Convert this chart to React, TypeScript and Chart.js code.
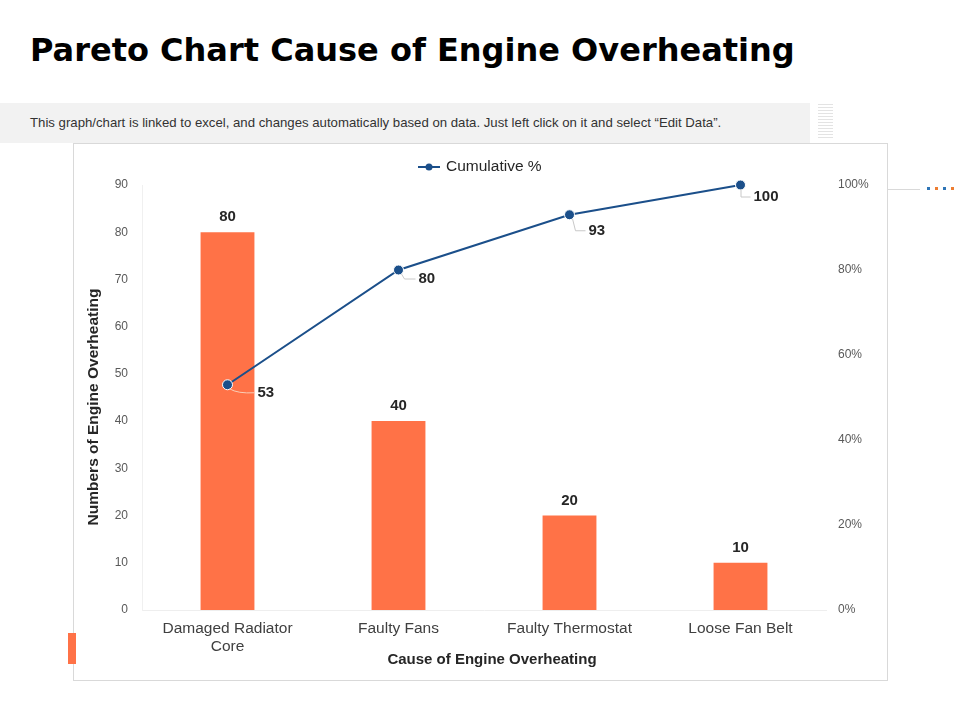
import React, { useEffect, useRef } from "react";
import { Chart, registerables } from "chart.js";

Chart.register(...registerables);

const categories: (string | string[])[] = [["Damaged Radiator", "Core"], "Faulty Fans", "Faulty Thermostat", "Loose Fan Belt"];
const counts = [80, 40, 20, 10];
const cumulative = [53, 80, 93, 100];
const leftTicksMax = 90;
const rightTicksMax = 100;

const ORANGE = "#FF7247";
const BLUE = "#1B4F8A";
const FONT = "'Liberation Sans', Arial, sans-serif";

// label placement offsets for the cumulative labels (layout only)
const LABEL_OFFSETS = [
  [30, 8],
  [20, 9],
  [19, 16],
  [13, 12],
];

const customPlugin = {
  id: "custom",
  afterDatasetsDraw(chart: any) {
    const ctx = chart.ctx;
    ctx.save();
    // bar value labels
    const barMeta = chart.getDatasetMeta(0);
    ctx.font = `bold 15px ${FONT}`;
    ctx.fillStyle = "#262626";
    ctx.textAlign = "center";
    ctx.textBaseline = "middle";
    barMeta.data.forEach((el: any, i: number) => {
      ctx.fillText(String(counts[i]), el.x, el.y - 15);
    });
    // line labels with leaders
    const lineMeta = chart.getDatasetMeta(1);
    lineMeta.data.forEach((el: any, i: number) => {
      const [dx, dy] = LABEL_OFFSETS[i];
      const lx = el.x + dx;
      const ly = el.y + dy;
      ctx.strokeStyle = i === 0 ? "#F9CDB6" : "#C8C8C8";
      ctx.lineWidth = 1;
      ctx.beginPath();
      if (i === 0) {
        ctx.moveTo(el.x + 2, el.y + 4);
        ctx.quadraticCurveTo(el.x + 10, ly + 1, lx - 3, ly);
      } else if (i === 3) {
        ctx.moveTo(el.x + 0.5, el.y + 4);
        ctx.lineTo(el.x + 0.5, ly);
        ctx.lineTo(lx - 3, ly);
      } else {
        ctx.moveTo(el.x + 3, el.y + 4);
        ctx.lineTo(el.x + 6, ly);
        ctx.lineTo(lx - 3, ly);
      }
      ctx.stroke();
      ctx.fillStyle = "#262626";
      ctx.textAlign = "left";
      ctx.fillText(String(cumulative[i]), lx, ly);
    });
    // axis titles
    ctx.fillStyle = "#262626";
    ctx.textAlign = "center";
    ctx.font = `bold 15px ${FONT}`;
    ctx.fillText("Cause of Engine Overheating", 418, 516);
    ctx.font = `bold 15.5px ${FONT}`;
    ctx.translate(20, 263);
    ctx.rotate(-Math.PI / 2);
    ctx.fillText("Numbers of Engine Overheating", 0, 0);
    ctx.restore();

    // legend
    ctx.save();
    const cy = 23;
    ctx.strokeStyle = BLUE;
    ctx.lineWidth = 2;
    ctx.beginPath();
    ctx.moveTo(344, cy);
    ctx.lineTo(366, cy);
    ctx.stroke();
    ctx.fillStyle = BLUE;
    ctx.beginPath();
    ctx.arc(355, cy, 3.5, 0, Math.PI * 2);
    ctx.fill();
    ctx.font = `15.5px ${FONT}`;
    ctx.fillStyle = "#262626";
    ctx.textAlign = "left";
    ctx.textBaseline = "middle";
    ctx.fillText("Cumulative %", 372, cy);
    ctx.restore();
  },
};

function ChartBox() {
  const ref = useRef<HTMLCanvasElement>(null);
  useEffect(() => {
    if (!ref.current) return;
    const chart = new Chart(ref.current, {
      type: "bar",
      data: {
        labels: categories as any,
        datasets: [
          {
            type: "bar",
            label: "Count",
            data: counts,
            backgroundColor: ORANGE,
            barPercentage: 0.63,
            categoryPercentage: 0.5,
            yAxisID: "y",
            order: 2,
          },
          {
            type: "line",
            label: "Cumulative %",
            data: cumulative,
            borderColor: BLUE,
            borderWidth: 2,
            backgroundColor: BLUE,
            pointRadius: 5,
            pointBorderColor: "#ffffff",
            pointBorderWidth: 1,
            yAxisID: "y1",
            order: 1,
            clip: false,
          } as any,
        ],
      },
      options: {
        responsive: false,
        animation: false,
        layout: { padding: { top: 41, left: 0, right: 0, bottom: 0 } },
        plugins: {
          legend: { display: false },
          tooltip: { enabled: false },
        },
        scales: {
          x: {
            grid: { display: false, drawTicks: false },
            border: { display: true, color: "#EEEEEE" },
            ticks: {
              color: "#404040",
              font: { family: FONT, size: 15.5, lineHeight: 1.15 },
              padding: 10,
              maxRotation: 0,
              autoSkip: false,
            },
            afterFit: (s: any) => {
              s.height = 70;
            },
          },
          y: {
            position: "left",
            min: 0,
            max: leftTicksMax,
            grid: { display: false, drawTicks: false },
            border: { display: true, color: "#F0F0F0" },
            ticks: {
              stepSize: 10,
              color: "#595959",
              font: { family: FONT, size: 12 },
              padding: 14,
            },
            afterFit: (s: any) => {
              s.width = 68;
            },
          },
          y1: {
            position: "right",
            min: 0,
            max: rightTicksMax,
            grid: { display: false, drawTicks: false },
            border: { display: false },
            ticks: {
              stepSize: 20,
              color: "#595959",
              font: { family: FONT, size: 12 },
              padding: 12,
              callback: (v: any) => `${v}%`,
            },
            afterFit: (s: any) => {
              s.width = 61;
            },
          },
        },
      },
      plugins: [customPlugin],
    });
    return () => chart.destroy();
  }, []);
  return <canvas ref={ref} width={813} height={536} style={{ display: "block" }} />;
}

export default function App() {
  const stripes = [];
  for (let i = 0; i < 12; i++) {
    stripes.push(
      <div key={i} style={{ position: "absolute", left: 818, top: 104 + i * 3, width: 15, height: 1, background: "#E3E3E3" }} />
    );
  }
  const dots = [
    { x: 927, c: "#2E75B6" },
    { x: 935, c: "#ED7D31" },
    { x: 943, c: "#2E75B6" },
    { x: 951, c: "#ED7D31" },
  ];
  return (
    <div style={{ position: "absolute", left: 0, top: 0, width: 960, height: 720, background: "#fff", fontFamily: FONT, overflow: "hidden" }}>
      <div style={{ position: "absolute", left: 30, top: 28, fontFamily: "'DejaVu Sans', sans-serif", fontSize: 32, fontWeight: "bold", color: "#000", whiteSpace: "nowrap", lineHeight: "44px" }}>
        Pareto Chart Cause of Engine Overheating
      </div>
      <div style={{ position: "absolute", left: 0, top: 103, width: 810, height: 40, background: "#F2F2F2" }} />
      <div style={{ position: "absolute", left: 30, top: 103, height: 40, lineHeight: "40px", fontSize: 13.2, color: "#333", whiteSpace: "nowrap" }}>
        This graph/chart is linked to excel, and changes automatically based on data. Just left click on it and select “Edit Data”.
      </div>
      {stripes}
      <div style={{ position: "absolute", left: 888, top: 189, width: 32, height: 1, background: "#D9D9D9" }} />
      {dots.map((d, i) => (
        <div key={i} style={{ position: "absolute", left: d.x, top: 187, width: 3, height: 3, background: d.c }} />
      ))}
      <div style={{ position: "absolute", left: 73, top: 143, width: 813, height: 536, border: "1px solid #D9D9D9" }}>
        <ChartBox />
      </div>
      <div style={{ position: "absolute", left: 68, top: 633, width: 8, height: 31, background: ORANGE }} />
    </div>
  );
}
